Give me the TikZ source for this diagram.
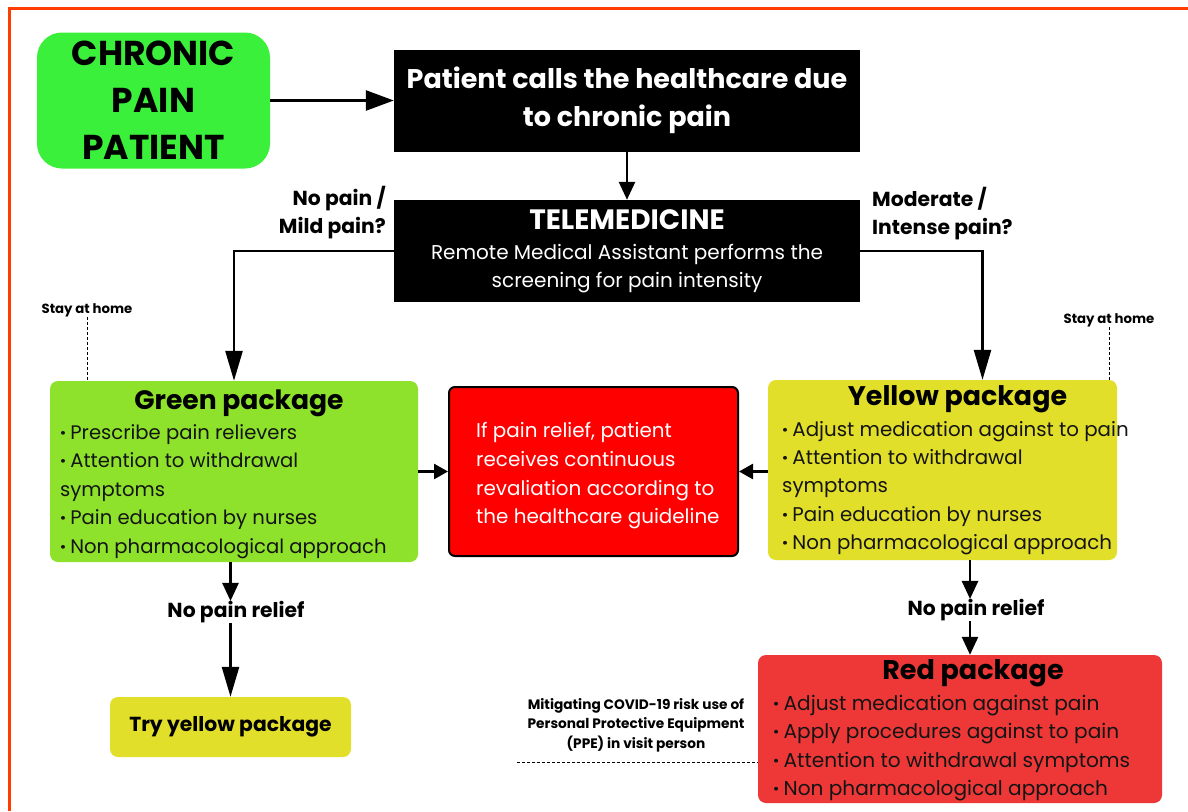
\documentclass[tikz,border=0pt]{standalone}
\usepackage{fontspec}
\setmainfont{Poppins}
\usetikzlibrary{arrows.meta}

\definecolor{frameorange}{RGB}{255,61,0}
\definecolor{chronicgreen}{RGB}{58,240,58}
\definecolor{greenpkg}{RGB}{142,226,43}
\definecolor{yellowpkg}{RGB}{226,223,42}
\definecolor{redmid}{RGB}{255,0,0}
\definecolor{redpkg}{RGB}{238,56,56}
\definecolor{textdark}{RGB}{20,20,20}

\newcommand{\dotitem}{\textbf{·}\hspace{0.22em}}

\begin{document}
\begin{tikzpicture}[x=1pt,y=-1pt,
  blackbox/.style={fill=black, text=white, minimum width=466, minimum height=102, inner sep=0, align=center},
  pkg/.style={rounded corners=8, inner sep=0},
  pkgtitle/.style={inner sep=0, text=black, font=\bfseries\fontsize{26.6}{30}\selectfont},
  pkglist/.style={inner sep=0, align=left, text=textdark, font=\fontsize{19.6}{28.4}\selectfont},
  smalllabel/.style={inner sep=0, text=black, font=\bfseries\fontsize{13.3}{20}\selectfont},
  asklabel/.style={inner sep=0, text=black, font=\bfseries\fontsize{20.3}{28}\selectfont},
  arr/.style={line width=2.6, -{Triangle[length=18pt,width=16pt]}},
  longarr/.style={line width=2.6, -{Triangle[length=30pt,width=17pt]}},
  dashline/.style={line width=0.9, dash pattern=on 3pt off 2pt}]
\useasboundingbox (0,0) rectangle (1188,811);
% frame
\draw[frameorange, line width=3] (9,811) -- (9,8) -- (1188,8);

% top row
\node[fill=chronicgreen, rounded corners=25, minimum width=233, minimum height=136, inner sep=0,
  align=center, font=\bfseries\fontsize{34.5}{47}\selectfont] (chronic) at (153.5,100.5) {CHRONIC\\PAIN\\PATIENT};
\node[blackbox, font=\bfseries\fontsize{27}{38}\selectfont] (calls) at (627,100.5) {Patient calls the healthcare due\\to chronic pain};
\node[blackbox, font=\fontsize{20}{28}\selectfont] (tele) at (627,251) {\bfseries\fontsize{28}{30}\selectfont TELEMEDICINE\\[2pt]
  \mdseries\fontsize{20}{28}\selectfont Remote Medical Assistant performs the\\screening for pain intensity};

\node[asklabel, align=right, anchor=east] (askL) at (386,213) {No pain /\\Mild pain?};
\node[asklabel, align=left, anchor=west] (askR) at (872,214) {Moderate /\\Intense pain?};

% packages
\node[pkg, fill=greenpkg, minimum width=368, minimum height=181] (green) at (234,471.5) {};
\node[pkgtitle] (greenT) at (239,403) {Green package};
\node[pkglist, anchor=west] (greenL) at (60,491.5) {\dotitem Prescribe pain relievers\\\dotitem Attention to withdrawal\\symptoms\\\dotitem Pain education by nurses\\\dotitem Non pharmacological approach};

\node[draw=black, line width=2, fill=redmid, rounded corners=6, minimum width=289, minimum height=169,
  inner sep=0] (mid) at (593.5,471.5) {};
\node[inner sep=0, align=left, text=white, font=\fontsize{19.9}{28.7}\selectfont, anchor=west] (midT) at (476,476)
  {If pain relief, patient\\receives continuous\\revaliation according to\\the healthcare guideline};

\node[pkg, fill=yellowpkg, minimum width=349, minimum height=180] (yellow) at (942.5,470) {};
\node[pkgtitle, font=\bfseries\fontsize{26.9}{30}\selectfont] (yellowT) at (957.5,399.5) {Yellow package};
\node[pkglist, anchor=west, font=\fontsize{19.8}{28.4}\selectfont] (yellowL) at (782,488) {\dotitem Adjust medication against to pain\\\dotitem Attention to withdrawal\\symptoms\\\dotitem Pain education by nurses\\\dotitem Non pharmacological approach};

\node[smalllabel] (stayL) at (87,310) {Stay at home};
\node[smalllabel] (stayR) at (1109,320) {Stay at home};

% lower part
\node[asklabel] (nrL) at (236,612) {No pain relief};
\node[pkg, fill=yellowpkg, minimum width=241, minimum height=60, font=\bfseries\fontsize{20.3}{24}\selectfont] (tryy) at (230.5,727) {Try yellow package};

\node[asklabel] (nrR) at (976,610) {No pain relief};
\node[pkg, fill=redpkg, minimum width=404, minimum height=148] (redp) at (960,729) {};
\node[pkgtitle, font=\bfseries\fontsize{27}{30}\selectfont] (redT) at (973,673) {Red package};
\node[pkglist, anchor=west, font=\fontsize{20.1}{28.5}\selectfont] (redL) at (773,748) {\dotitem Adjust medication against pain\\\dotitem Apply procedures against to pain\\\dotitem Attention to withdrawal symptoms\\\dotitem Non pharmacological approach};

\node[smalllabel, align=center, font=\bfseries\fontsize{13.7}{19.5}\selectfont] (ppe) at (636,725) {Mitigating COVID-19 risk use of\\Personal Protective Equipment\\(PPE) in visit person};
\coordinate (ppeL) at (517,762);
\coordinate (rtop) at ([xshift=10pt]redp.north);

% connectors
\draw[longarr, -{Triangle[length=28pt,width=20pt]}] (chronic) -- (calls);
\draw[arr, -{Triangle[length=18pt,width=16pt]}] (calls) -- (tele);
\draw[longarr] (tele.west) -| (green.north);
\draw[longarr] (tele.east) -| ([xshift=40pt]yellow.north);
\draw[arr, -{Triangle[length=14pt,width=15pt]}] (green.east) -- (mid.west);
\draw[arr, -{Triangle[length=14pt,width=15pt]}] (yellow.west |- mid) -- (mid.east);
\draw[arr] (green.south -| tryy) -- (nrL.north -| tryy);
\draw[longarr] (nrL.south -| tryy) -- (tryy.north);
\draw[arr] (yellow.south -| rtop) -- (nrR.north -| rtop);
\draw[arr] (nrR.south -| rtop) -- (rtop);
\draw[dashline] (stayL.south) -- (stayL.south |- green.north);
\draw[dashline] (stayR.south) -- (stayR.south |- yellow.north);
\draw[dashline] (ppeL) -- (ppeL -| redp.west);
\end{tikzpicture}
\end{document}
